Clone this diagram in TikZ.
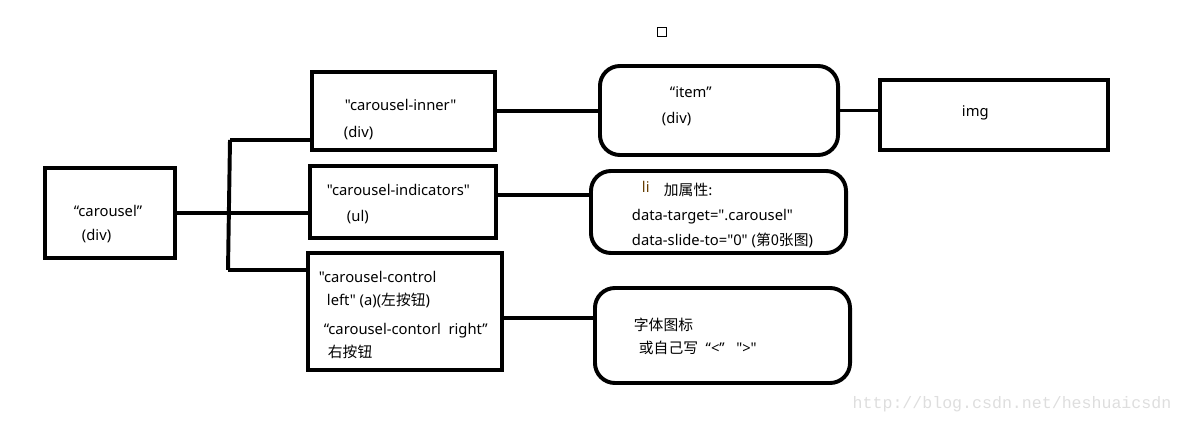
\documentclass[tikz,border=0pt]{standalone}
\usepackage{fontspec}
\setmainfont{Noto Sans}[Ligatures=TeXOff]
\newfontfamily\cjk{Noto Sans CJK SC}[Ligatures=TeXOff]
\newfontfamily\wmfont{Liberation Mono}
\usetikzlibrary{calc,positioning}

\begin{document}
\begin{tikzpicture}[x=0.025cm,y=-0.025cm, line width=2.8pt,
  box/.style={draw,rectangle,inner sep=0pt},
  rbox/.style={draw,rectangle,rounded corners=0.5cm,inner sep=0pt},
  txt/.style={anchor=mid west,inner sep=0pt,font=\fontsize{10.5}{12}\selectfont}]
  \useasboundingbox (0,0) rectangle (1184,426);
  % boxes
  \node[box,minimum width=3.25cm,minimum height=2.25cm] (carousel) at (110,213) {};
  \node[box,minimum width=4.575cm,minimum height=1.95cm] (inner) at (403.5,111) {};
  \node[box,minimum width=4.65cm,minimum height=1.8cm] (indicators) at (403,202) {};
  \node[box,minimum width=4.85cm,minimum height=2.925cm] (control) at (405,311.5) {};
  \node[rbox,minimum width=5.95cm,minimum height=2.225cm] (item) at (719,110.5) {};
  \node[box,minimum width=5.7cm,minimum height=1.75cm] (img) at (994,115) {};
  \node[rbox,minimum width=6.375cm,minimum height=2.05cm] (li) at (718.5,212) {};
  \node[rbox,minimum width=6.375cm,minimum height=2.375cm] (icon) at (722.5,335.5) {};
  \node[draw,line width=1pt,minimum size=0.225cm,inner sep=0pt] (mark) at (662,32) {};

  % texts
  \node[txt] (t1) at (72,213) {“carousel”};
  \node[txt] (t2) at (80,237) {(div)};
  \node[txt] (t3) at (343,107) {"carousel-inner"};
  \node[txt] (t4) at (342,134) {(div)};
  \node[txt] (t5) at (325,192) {"carousel-indicators"};
  \node[txt] (t6) at (345,218) {(ul)};
  \node[txt] (t7) at (317,279) {"carousel-control};
  \node[txt] (t8) at (325,302) {left" (a)({\cjk 左按钮})};
  \node[txt] (t9) at (322,331) {“carousel-contorl\ \ right”};
  \node[txt] (t10) at (326,354) {\cjk 右按钮};
  \node[txt] (t11) at (668,94) {“item”};
  \node[txt] (t12) at (660,120) {(div)};
  \node[txt] (t13) at (960,113) {img};
  \node[txt,text={rgb,255:red,100;green,60;blue,0}] (t14) at (640,189) {li};
  \node[txt] (t15) at (662,192) {\cjk 加属性:};
  \node[txt] (t16) at (630,217) {data-target=".carousel"};
  \node[txt] (t17) at (630,242) {data-slide-to="0" ({\cjk 第0张图})};
  \node[txt] (t18) at (632,327) {\cjk 字体图标};
  \node[txt] (t19) at (637,350) {{\cjk 或自己写}\ \ “<”\ \ \ ">"};
  \node[anchor=mid,inner sep=0pt,text={rgb,255:red,222;green,222;blue,222},font=\wmfont\fontsize{11.8}{13}\selectfont] (wm) at (1012,405) {http://blog.csdn.net/heshuaicsdn};

  % connectors
  \coordinate (trunktop) at (230,140);
  \coordinate (trunkbot) at (228,270);
  \draw (carousel.east) -- (carousel.east -| indicators.west);
  \draw (trunktop) -- (trunkbot);
  \draw (trunktop) -- (trunktop -| inner.west);
  \draw (trunkbot) -- (trunkbot -| control.west);
  \draw (inner.east) -- (inner.east -| item.west);
  \draw (item.east) -- (item.east -| img.west);
  \draw ([yshift=0.175cm]indicators.east) -- ([yshift=0.175cm]indicators.east -| li.west);
  \draw ([yshift=-0.16cm]control.east) -- ([yshift=-0.16cm]control.east -| icon.west);
\end{tikzpicture}
\end{document}
